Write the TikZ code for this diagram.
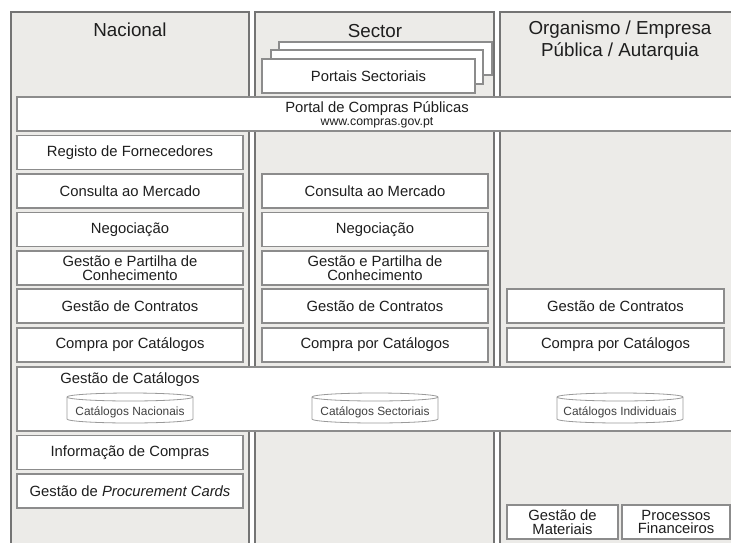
\documentclass[tikz,border=0pt]{standalone}
\usepackage{fontspec}
\setmainfont{Liberation Sans}
\definecolor{panelfill}{HTML}{ECEBE8}
\definecolor{paneldark}{HTML}{747474}
\definecolor{panellight}{HTML}{B8B8B8}
\definecolor{boxline}{HTML}{8C8C8C}
\definecolor{txt}{HTML}{1E1E1E}
\definecolor{cylline}{HTML}{9A9A9A}
\newcommand\catcyl[3]{%
  \draw[cylshape] ({#1-63},397) -- ({#1-63},419)
     arc[start angle=180, end angle=360, x radius=63pt, y radius=4pt]
     -- ({#1+63},397)
     arc[start angle=0, end angle=180, x radius=63pt, y radius=4pt] -- cycle;
  \draw[cylshape] ({#1-63},397)
     arc[start angle=180, end angle=360, x radius=63pt, y radius=4pt];
  \node[cyltext] (#2) at (#1,412) {#3};}
\begin{document}
\begin{tikzpicture}[x=1pt,y=-1pt,
  panel/.style={fill=panelfill, draw=panellight, line width=2.6pt},
  panelline/.style={draw=paneldark, line width=1.3pt},
  head/.style={text=txt, font=\fontsize{18.8}{22}\selectfont, align=center, inner sep=0},
  box/.style={draw=boxline, fill=white, line width=1.1pt, inner sep=0, align=center,
     text=txt, font=\fontsize{14.8}{13.8}\selectfont, minimum height=34pt},
  wbox/.style={box, minimum width=226pt},
  rbox/.style={box, minimum width=217pt},
  plain/.style={text=txt, inner sep=0, font=\fontsize{14.8}{13.8}\selectfont},
  small/.style={text=txt, inner sep=0, font=\fontsize{12.3}{14}\selectfont},
  cylshape/.style={draw=cylline, fill=white, line width=0.8pt},
  cyltext/.style={text=txt!85, inner sep=0, font=\fontsize{11.9}{14}\selectfont}]
\useasboundingbox (0,0) rectangle (731,542);
\clip (0,0) rectangle (731,542);
% panels
\foreach \a/\b in {11/249, 255/494, 500/760}{
  \path[panel] (\a,570) -- (\a,12) -- (\b,12) -- (\b,570);
  \path[panelline] (\a,570) -- (\a,12) -- (\b,12) -- (\b,570);
}
% headers
\node[head] (hnac) at (130,30) {Nacional};
\node[head] (hsec) at (375,31) {Sector};
\node[head] (horg) at (620,41) {Organismo / Empresa\\Pública / Autarquia};
% portais sectoriais stack
\node[box, minimum width=213pt, minimum height=33pt] (ps3) at (385.5,58.5) {};
\node[box, minimum width=212pt, minimum height=34pt] (ps2) at (377,67) {};
\node[box, minimum width=213pt, minimum height=34pt] (ps1) at (368.5,76) {Portais Sectoriais};
% portal
\node[box, minimum width=723pt, minimum height=34pt] (portal) at (378.5,114) {};
\node[plain] (portalt) at (377,109) {Portal de Compras Públicas};
\node[small] (portalu) at (377,122.5) {www.compras.gov.pt};
% nacional column
\node[wbox] (reg) at (130,152.5) {Registo de Fornecedores};
\node[wbox] (ncons) at (130,191) {Consulta ao Mercado};
\node[wbox] (nneg) at (130,229.5) {Negociação};
\node[wbox] (ngest) at (130,268) {Gestão e Partilha de\\Conhecimento};
\node[wbox] (ncont) at (130,306) {Gestão de Contratos};
\node[wbox] (ncomp) at (130,345) {Compra por Catálogos};
\node[wbox] (ninfo) at (130,452.5) {Informação de Compras};
\node[wbox] (nproc) at (130,491) {Gestão de \textit{Procurement Cards}};
% sector column
\node[wbox] (scons) at (375,191) {Consulta ao Mercado};
\node[wbox] (sneg) at (375,229.5) {Negociação};
\node[wbox] (sgest) at (375,268) {Gestão e Partilha de\\Conhecimento};
\node[wbox] (scont) at (375,306) {Gestão de Contratos};
\node[wbox] (scomp) at (375,345) {Compra por Catálogos};
% organismo column
\node[rbox] (ocont) at (615.5,306) {Gestão de Contratos};
\node[rbox] (ocomp) at (615.5,345) {Compra por Catálogos};
\node[box, minimum width=111pt] (omat) at (562.5,522) {Gestão de\\Materiais};
\node[box, minimum width=108pt] (ofin) at (676,522) {Processos\\Financeiros};
% catalogos band
\node[box, minimum width=723pt, minimum height=64pt] (cat) at (378.5,399) {};
\node[plain] (catt) at (130,380) {Gestão de Catálogos};
\catcyl{130}{cnac}{Catálogos Nacionais}
\catcyl{375}{csec}{Catálogos Sectoriais}
\catcyl{620}{cind}{Catálogos Individuais}
\end{tikzpicture}
\end{document}
